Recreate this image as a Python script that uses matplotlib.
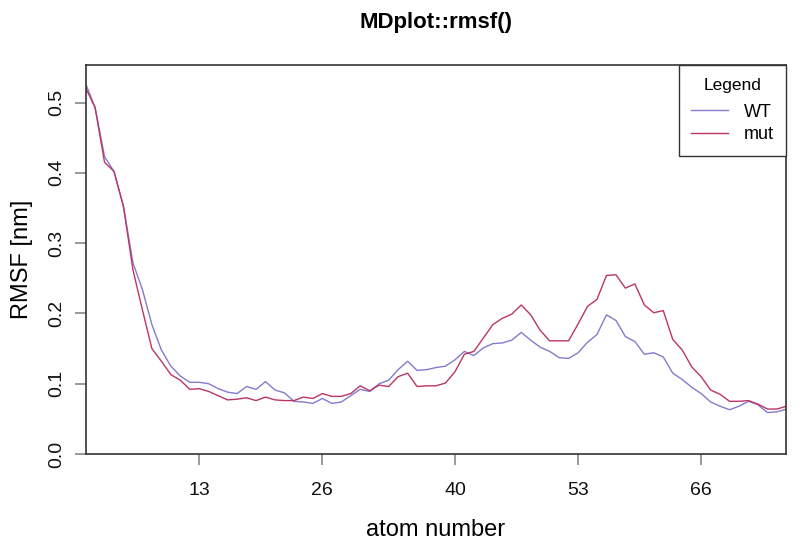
#!/usr/bin/env python3
"""RMSF per atom, WT vs mut (MDplot::rmsf style)"""

import numpy as np
import matplotlib
matplotlib.use('Agg')
import matplotlib.pyplot as plt

plt.rcParams['font.family'] = ['Liberation Sans', 'DejaVu Sans']

# atom numbers 1..75
atoms = list(range(1, 76))

rmsf_wt = [
    0.527, 0.493, 0.423, 0.402, 0.352, 0.272, 0.234, 0.184, 0.148, 0.125,
    0.111, 0.102, 0.102, 0.100, 0.093, 0.088, 0.086, 0.096, 0.092, 0.103,
    0.091, 0.087, 0.075, 0.074, 0.072, 0.079, 0.072, 0.074, 0.083, 0.092,
    0.089, 0.100, 0.105, 0.120, 0.132, 0.119, 0.120, 0.123, 0.125, 0.134,
    0.146, 0.140, 0.151, 0.157, 0.158, 0.162, 0.173, 0.162, 0.152, 0.146,
    0.137, 0.136, 0.144, 0.159, 0.170, 0.198, 0.190, 0.167, 0.160, 0.142,
    0.144, 0.138, 0.115, 0.106, 0.095, 0.086, 0.074, 0.068, 0.063, 0.068,
    0.075, 0.070, 0.059, 0.060, 0.064,
]

rmsf_mut = [
    0.521, 0.493, 0.415, 0.402, 0.352, 0.262, 0.205, 0.150, 0.132, 0.113,
    0.105, 0.092, 0.093, 0.089, 0.083, 0.077, 0.078, 0.080, 0.076, 0.081,
    0.077, 0.076, 0.076, 0.081, 0.079, 0.086, 0.082, 0.082, 0.086, 0.097,
    0.090, 0.098, 0.096, 0.110, 0.115, 0.096, 0.097, 0.097, 0.101, 0.117,
    0.142, 0.146, 0.165, 0.184, 0.193, 0.199, 0.212, 0.198, 0.176, 0.161,
    0.161, 0.161, 0.185, 0.210, 0.220, 0.254, 0.255, 0.236, 0.242, 0.212,
    0.201, 0.204, 0.163, 0.148, 0.124, 0.110, 0.091, 0.085, 0.075, 0.075,
    0.076, 0.071, 0.064, 0.064, 0.068,
]

x_ticks = [13, 26, 40, 53, 66]
y_ticks = [0.0, 0.1, 0.2, 0.3, 0.4, 0.5]

col_wt = '#857ace'
col_mut = '#bb3565'


def main():
    fig = plt.figure(figsize=(8, 5.51), dpi=100)
    ax = fig.add_axes([0.107, 0.176, 0.876, 0.706])

    ax.plot(atoms, rmsf_wt, color=col_wt, lw=1.0, label='WT')
    ax.plot(atoms, rmsf_mut, color=col_mut, lw=1.0, label='mut')

    ymax = max(max(rmsf_wt), max(rmsf_mut)) * 1.05
    ax.set_xlim(atoms[0], atoms[-1])
    ax.set_ylim(0, ymax)

    ax.set_xticks(x_ticks)
    ax.set_xticklabels([str(t) for t in x_ticks])
    ax.set_yticks(y_ticks)
    ax.set_yticklabels([f'{t:.1f}' for t in y_ticks], rotation=90, va='center')
    ax.tick_params(axis='both', length=8, width=1.2, color='#888888',
                   labelsize=14, labelcolor='#111111')
    ax.tick_params(axis='x', pad=12)
    ax.tick_params(axis='y', pad=7)

    for s in ax.spines.values():
        s.set_color('#333333')
        s.set_linewidth(1.2)

    leg = ax.legend(title='Legend', loc='upper right', borderaxespad=0,
                    fancybox=False, framealpha=1, edgecolor='#333333',
                    fontsize=13, title_fontsize=12.5, handlelength=2.0,
                    handletextpad=0.9, borderpad=0.7, labelspacing=0.3)
    leg.get_frame().set_linewidth(1.0)
    leg._legend_box.sep = 8

    fig.text(0.545, 0.96, 'MDplot::rmsf()', ha='center', va='center',
             fontsize=16, fontweight='bold')
    fig.text(0.545, 0.038, 'atom number', ha='center', va='center', fontsize=17)
    fig.text(0.0275, 0.529, 'RMSF [nm]', ha='center', va='center',
             rotation=90, fontsize=17)

    plt.savefig('out.png', dpi=100)


if __name__ == '__main__':
    main()
